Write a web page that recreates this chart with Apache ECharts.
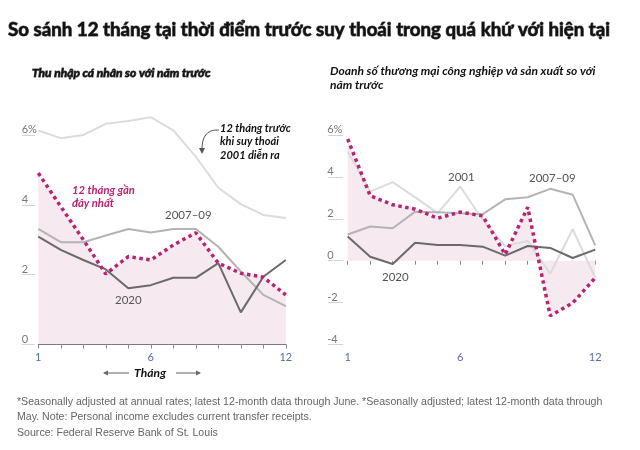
<!DOCTYPE html>
<html><head><meta charset="utf-8">
<script src="https://cdn.jsdelivr.net/npm/echarts@6/dist/echarts.min.js"></script>
<style>html,body{margin:0;padding:0;background:#fff}#c{width:640px;height:450px}</style>
</head><body><div id="c"></div><script>
// ---- data ----
const months = ['1','2','3','4','5','6','7','8','9','10','11','12'];
const incomeRecent = [4.91, 3.95, 3.00, 2.02, 2.52, 2.42, 2.85, 3.20, 2.33, 2.04, 1.93, 1.42];
const income2020   = [3.09, 2.71, 2.42, 2.15, 1.61, 1.70, 1.91, 1.91, 2.33, 0.92, 1.94, 2.42];
const income2007   = [3.31, 2.93, 2.93, 3.12, 3.31, 3.21, 3.31, 3.31, 2.80, 2.09, 1.42, 1.10];
const income2001   = [6.13, 5.91, 6.00, 6.32, 6.40, 6.51, 6.13, 5.38, 4.49, 4.02, 3.71, 3.62];
const salesRecent  = [5.81, 3.10, 2.67, 2.46, 2.03, 2.32, 2.14, 0.30, 2.55, -2.63, -2.02, -0.82];
const sales2020    = [1.15, 0.19, -0.16, 0.86, 0.75, 0.75, 0.67, 0.24, 0.70, 0.61, 0.13, 0.53];
const sales2007    = [1.25, 1.63, 1.55, 2.34, 2.31, 2.26, 2.22, 2.93, 3.03, 3.43, 3.15, 0.73];
const sales2001    = [5.21, 3.30, 3.75, 3.02, 2.27, 3.54, 1.95, 0.70, 0.94, -0.62, 1.50, -0.80];
const shownMonthLabels = ['1','6','12'];

const FONT = 'Lato, "Open Sans", sans-serif';
const C_LIGHT = '#dcdcdc', C_MID = '#b4b4b4', C_DARK = '#6a6a6a', C_PINK = '#b9246f', C_FILL = '#f7e9f0';

const chart = echarts.init(document.getElementById('c'), null, {renderer:'canvas'});

function xAxisCfg(i, showLine) {
  return {type:'category', gridIndex:i, data:months, boundaryGap:false,
    axisLine:{show:showLine, lineStyle:{color:'#555', width:1}},
    axisTick:{show:true, interval:0, length:4, lineStyle:{color:'#888'}},
    axisLabel:{interval:0, formatter:(v)=> shownMonthLabels.includes(v) ? v : '', color:'#56709a', fontSize:11, margin:7, fontFamily:FONT},
    splitLine:{show:false}};
}
function yAxisCfg(i, min, offset, tickLen, margin) {
  return {type:'value', gridIndex:i, min:min, max:6, interval:2, offset:offset,
    axisLine:{show:false},
    axisTick:{show:true, length:tickLen, lineStyle:{color:'#d4d4d4', width:1}},
    splitLine:{show:false},
    axisLabel:{formatter:(v)=> v===6 ? '6%' : String(v), align:'left', verticalAlign:'bottom', margin:margin,
      color:'#777', fontSize:11, fontFamily:FONT}};
}
function line(i, data, color, z) {
  return {type:'line', xAxisIndex:i, yAxisIndex:i, data:data, symbol:'none', clip:false, z:z,
    lineStyle:{color:color, width:2}, animation:false};
}
function area(i, data) {
  return {type:'line', xAxisIndex:i, yAxisIndex:i, data:data, symbol:'none', z:1,
    lineStyle:{width:0, opacity:0}, areaStyle:{color:C_FILL, opacity:1}, animation:false};
}
function dotted(i, data) {
  return {type:'line', xAxisIndex:i, yAxisIndex:i, data:data, symbol:'none', z:6, clip:false,
    lineStyle:{color:C_PINK, width:3.5, type:[3.5,3.5], cap:'butt'}, animation:false};
}
function txt(x, y, text, opt) {
  return Object.assign({type:'text', x:x, y:y, z:100, style:Object.assign({text:text, fill:'#555', font:'11px '+FONT, textVerticalAlign:'middle'}, opt||{})});
}
const BI = (s)=> 'italic bold '+s+'px '+FONT;
const FN = '10.6px "Liberation Sans", sans-serif';

chart.setOption({
  animation:false,
  grid:[
    {left:38.3, right:640-285.8, top:135, bottom:450-344.5},
    {left:347.7, right:640-595.2, top:135, bottom:450-344.5}
  ],
  xAxis:[xAxisCfg(0, true), xAxisCfg(1, false)],
  yAxis:[yAxisCfg(0, 0, 3.3, 13.3, 13.3), yAxisCfg(1, -4, 4.5, 15, 16)],
  series:[
    area(0, incomeRecent), line(0, income2001, C_LIGHT, 2), line(0, income2007, C_MID, 3), line(0, income2020, C_DARK, 4), dotted(0, incomeRecent),
    area(1, salesRecent), line(1, sales2001, C_LIGHT, 2), line(1, sales2007, C_MID, 3), line(1, sales2020, C_DARK, 4), dotted(1, salesRecent)
  ],
  graphic:[
    txt(8, 30, 'So sánh 12 tháng tại thời điểm trước suy thoái trong quá khứ với hiện tại', {fill:'#111', font:'bold 18.7px '+FONT}),
    txt(32, 73, 'Thu nhập cá nhân so với năm trước', {fill:'#111', font:BI(12)}),
    txt(330, 71, 'Doanh số thương mại công nghiệp và sản xuất so với', {fill:'#111', font:BI(12)}),
    txt(330, 85.5, 'năm trước', {fill:'#111', font:BI(12)}),
    txt(72, 190, '12 tháng gần', {fill:C_PINK, font:BI(11.2)}),
    txt(72, 203, 'đây nhất', {fill:C_PINK, font:BI(11.2)}),
    txt(165, 215, '2007–09', {fill:'#555', font:'11.5px '+FONT}),
    txt(115, 300, '2020', {fill:'#555', font:'11.5px '+FONT}),
    txt(220, 128, '12 tháng trước', {fill:'#111', font:BI(11)}),
    txt(220, 141.5, 'khi suy thoái', {fill:'#111', font:BI(11)}),
    txt(220, 155, '2001 diễn ra', {fill:'#111', font:BI(11)}),
    {type:'bezierCurve', z:100, shape:{x1:219, y1:130, x2:202, y2:149, cpx1:206, cpy1:129, cpx2:202, cpy2:138}, style:{stroke:'#555', lineWidth:1, fill:null}},
    {type:'polygon', z:100, shape:{points:[[199,148],[205,148],[202,154]]}, style:{fill:'#555'}},
    txt(448, 177, '2001', {fill:'#555', font:'11.5px '+FONT}),
    txt(529, 178.5, '2007–09', {fill:'#555', font:'11.5px '+FONT}),
    txt(382, 277, '2020', {fill:'#555', font:'11.5px '+FONT}),
    txt(150, 373, 'Tháng', {fill:'#111', font:BI(12), textAlign:'center'}),
    {type:'line', z:100, shape:{x1:104, y1:373, x2:129, y2:373}, style:{stroke:'#666', lineWidth:1}},
    {type:'polygon', z:100, shape:{points:[[103,373],[108,370.5],[108,375.5]]}, style:{fill:'#666'}},
    {type:'line', z:100, shape:{x1:176, y1:373, x2:200, y2:373}, style:{stroke:'#666', lineWidth:1}},
    {type:'polygon', z:100, shape:{points:[[201,373],[196,370.5],[196,375.5]]}, style:{fill:'#666'}},
    txt(17, 402, '*Seasonally adjusted at annual rates; latest 12-month data through June. *Seasonally adjusted; latest 12-month data through', {fill:'#666', font:FN}),
    txt(17, 417, 'May. Note: Personal income excludes current transfer receipts.', {fill:'#666', font:FN}),
    txt(17, 433, 'Source: Federal Reserve Bank of St. Louis', {fill:'#666', font:FN})
  ]
});

// zero lines (axis decoration extended to the gridline stubs)
const y0L = chart.convertToPixel({yAxisIndex:0}, 0);
const y0R = chart.convertToPixel({yAxisIndex:1}, 0);
const xEndR = chart.convertToPixel({xAxisIndex:1}, '12');
chart.setOption({graphic:[
  {type:'line', z:50, shape:{x1:21.7, y1:y0L, x2:38.3, y2:y0L}, style:{stroke:'#555', lineWidth:1}},
  {type:'line', z:50, shape:{x1:328, y1:y0R, x2:xEndR, y2:y0R}, style:{stroke:'#555', lineWidth:1}}
]});
</script></body></html>
